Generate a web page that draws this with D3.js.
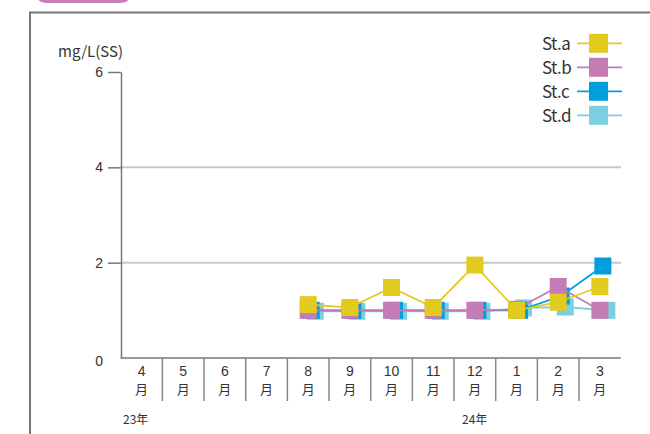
<!DOCTYPE html>
<html>
<head>
<meta charset="utf-8">
<script src="https://cdn.jsdelivr.net/npm/d3@7"></script>
<style>
  body { margin: 0; background: #fff; }
  svg { display: block; font-family: "Noto Sans CJK JP", "Noto Sans", sans-serif; }
</style>
</head>
<body>
<div id="chart"></div>
<script>
const months = ["4", "5", "6", "7", "8", "9", "10", "11", "12", "1", "2", "3"];
const years = [{ label: "23年", x: 123 }, { label: "24年", x: 462 }];
const yTicks = [0, 2, 4, 6];

const stA = [null, null, null, null, 1.12, 1.06, 1.48, 1.06, 1.95, 1.0, 1.17, 1.5];
const stB = [null, null, null, null, 1.0, 1.0, 1.0, 1.0, 1.0, 1.02, 1.5, 1.0];
const stC = [null, null, null, null, 1.0, 1.0, 1.0, 1.0, 1.0, 1.0, 1.3, 1.93];
const stD = [null, null, null, null, 0.98, 0.98, 0.98, 0.98, 0.98, 1.05, 1.07, 1.0];

const series = [
  { name: "St.a", values: stA, color: "#e3ca1f", dx: 0 },
  { name: "St.b", values: stB, color: "#c57cb5", dx: 0 },
  { name: "St.c", values: stC, color: "#009fdb", dx: 3 },
  { name: "St.d", values: stD, color: "#7acfe0", dx: 7 }
];

const width = 650;
const height = 434;

const svg = d3.select("#chart")
  .append("svg")
  .attr("width", width)
  .attr("height", height);

// frame + tab
svg.append("path")
  .attr("d", "M37,0 L37,-6 L130,-6 L130,-5 Q130,3 120,3 L47,3 Q37,3 37,-5 Z")
  .attr("fill", "#c97fba");
svg.append("path")
  .attr("d", `M30,${height} L30,12.5 L${width},12.5`)
  .attr("fill", "none")
  .attr("stroke", "#777")
  .attr("stroke-width", 2);

const x = d3.scaleBand()
  .domain(months.map((m, i) => i))
  .range([120.7, 620.7]);

const y = d3.scaleLinear()
  .domain([0, 6])
  .range([358, 72]);

// grid lines
svg.append("g")
  .selectAll("line")
  .data([2, 4])
  .enter()
  .append("line")
  .attr("x1", 121)
  .attr("x2", 621)
  .attr("y1", d => y(d))
  .attr("y2", d => y(d))
  .attr("stroke", "#c8c8c8")
  .attr("stroke-width", 2);

// y axis
const yAxis = svg.append("g")
  .attr("transform", "translate(121,0)")
  .call(d3.axisLeft(y).tickValues(yTicks).tickFormat(d3.format("d"))
    .tickSize(13).tickPadding(5).tickSizeOuter(0));
yAxis.select(".domain").attr("stroke", "#777").attr("stroke-width", 1.5);
yAxis.selectAll(".tick line").attr("stroke", "#777").attr("stroke-width", 1.5)
  .attr("display", d => d === 0 ? "none" : null);
yAxis.selectAll(".tick text")
  .attr("font-size", 14)
  .attr("fill", "#333")
  .attr("x", -18)
  .attr("dy", d => d === 0 ? "0.55em" : "0.32em");

svg.append("text")
  .attr("x", 58)
  .attr("y", 57)
  .attr("font-size", 15)
  .attr("fill", "#333")
  .text("mg/L(SS)");

// x axis
svg.append("line")
  .attr("x1", 120.7).attr("x2", 620.7)
  .attr("y1", 358).attr("y2", 358)
  .attr("stroke", "#777").attr("stroke-width", 1.5);

svg.append("g")
  .selectAll("line")
  .data(months.slice(1))
  .enter()
  .append("line")
  .attr("x1", (d, i) => x(i + 1))
  .attr("x2", (d, i) => x(i + 1))
  .attr("y1", 358)
  .attr("y2", 401)
  .attr("stroke", "#888")
  .attr("stroke-width", 1.5);

// month labels: number over 月
const mLabels = svg.append("g")
  .selectAll("g")
  .data(months)
  .enter()
  .append("g")
  .attr("transform", (d, i) => `translate(${x(i) + x.bandwidth() / 2},0)`);
mLabels.append("text")
  .attr("y", 375.8)
  .attr("text-anchor", "middle")
  .attr("font-family", "'Liberation Sans', sans-serif")
  .attr("font-size", 14)
  .attr("fill", "#333")
  .text(d => d);
mLabels.append("text")
  .attr("y", 394)
  .attr("text-anchor", "middle")
  .attr("font-size", 13)
  .attr("fill", "#333")
  .text("月");

svg.append("g")
  .selectAll("text")
  .data(years)
  .enter()
  .append("text")
  .attr("x", d => d.x)
  .attr("y", 424)
  .attr("font-size", 12)
  .attr("fill", "#333")
  .text(d => d.label);

// series (drawn d, c, b, a so St.a is on top)
const line = d3.line()
  .defined(d => d.v !== null)
  .x(d => d.x)
  .y(d => y(d.v));

const ms = 17;
series.slice().reverse().forEach(s => {
  const pts = s.values.map((v, i) => ({ v, x: x(i) + x.bandwidth() / 2 + s.dx }));
  const g = svg.append("g");
  g.append("path")
    .datum(pts)
    .attr("d", line)
    .attr("fill", "none")
    .attr("stroke", s.color)
    .attr("stroke-width", 1.8);
  g.selectAll("rect")
    .data(pts.filter(p => p.v !== null))
    .enter()
    .append("rect")
    .attr("x", p => p.x - ms / 2)
    .attr("y", p => y(p.v) - ms / 2)
    .attr("width", ms)
    .attr("height", ms)
    .attr("fill", s.color);
});

// legend
const legend = svg.append("g")
  .selectAll("g")
  .data(series)
  .enter()
  .append("g")
  .attr("transform", (d, i) => `translate(0,${43.3 + i * 24})`);
legend.append("line")
  .attr("x1", 577).attr("x2", 622)
  .attr("stroke", d => d.color)
  .attr("stroke-width", 1.8);
legend.append("rect")
  .attr("x", 589).attr("y", -9.5)
  .attr("width", 19).attr("height", 19)
  .attr("fill", d => d.color);
legend.append("text")
  .attr("x", 542)
  .attr("y", 6.5)
  .attr("font-size", 17)
  .attr("letter-spacing", -0.6)
  .attr("fill", "#333")
  .text(d => d.name);
</script>
</body>
</html>
